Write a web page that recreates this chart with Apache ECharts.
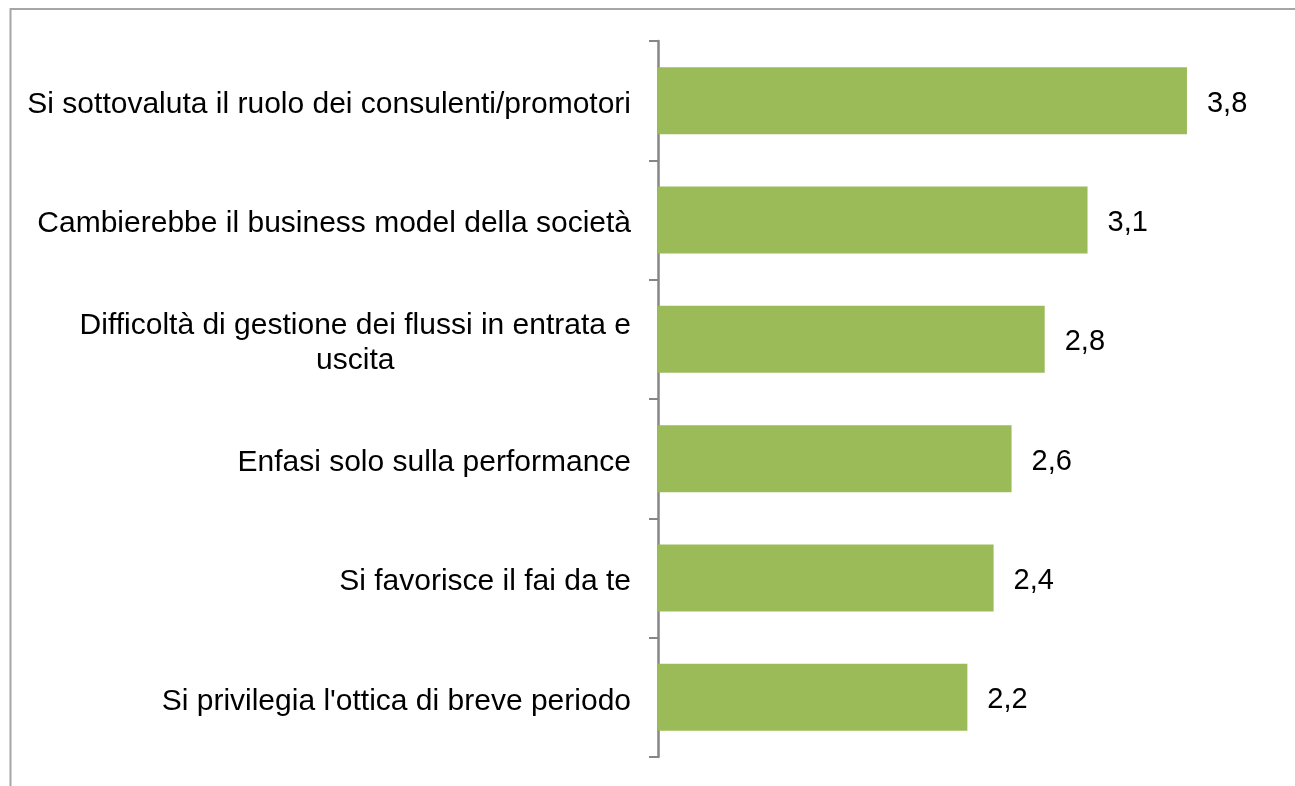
<!DOCTYPE html>
<html>
<head>
<meta charset="utf-8">
<script src="https://cdn.jsdelivr.net/npm/echarts@6/dist/echarts.min.js"></script>
<style>
html,body{margin:0;padding:0;background:#fff;}
#chart{width:1295px;height:786px;}
</style>
</head>
<body>
<div id="chart"></div>
<script>
var categories = [
  "Si sottovaluta il ruolo dei consulenti/promotori",
  "Cambierebbe il business model della società",
  "Difficoltà di gestione dei flussi in entrata e\nuscita",
  "Enfasi solo sulla performance",
  "Si favorisce il fai da te",
  "Si privilegia l'ottica di breve periodo"
];
var values = [3.83, 3.11, 2.80, 2.56, 2.43, 2.24];

var chart = echarts.init(document.getElementById('chart'));
var font = '"Liberation Sans", Arial, sans-serif';
chart.setOption({
  animation: false,
  backgroundColor: '#ffffff',
  graphic: [{
    type: 'rect',
    shape: { x: 10.5, y: 9, width: 1400, height: 900 },
    style: { fill: 'none', stroke: '#a6a6a6', lineWidth: 2 },
    silent: true,
    z: -10
  }],
  grid: { left: 658, right: 15.5, top: 41, bottom: 29, containLabel: false },
  xAxis: {
    type: 'value',
    min: 0,
    max: 4.5,
    show: false
  },
  yAxis: {
    type: 'category',
    data: categories,
    inverse: true,
    axisLine: { show: true, lineStyle: { color: '#868686', width: 2.5 } },
    axisTick: { show: true, length: 9, inside: false, lineStyle: { color: '#868686', width: 2 } },
    axisLabel: {
      margin: 27,
      align: 'right',
      color: '#000',
      fontFamily: font,
      fontSize: 30,
      lineHeight: 35,
      padding: [8, 0, 0, 0],
      formatter: function (v) {
        return v.split('\n').map(function (l) { return '{c|' + l + '}'; }).join('\n');
      },
      rich: {
        c: { align: 'center', fontFamily: font, fontSize: 30, lineHeight: 35, color: '#000' }
      }
    },
    splitLine: { show: false }
  },
  series: [{
    type: 'bar',
    data: values,
    barWidth: 67,
    itemStyle: { color: '#9bbb59' },
    label: {
      show: true,
      position: 'right',
      distance: 20,
      offset: [0, 3],
      color: '#000',
      fontFamily: font,
      fontSize: 29,
      formatter: function (p) { return p.value.toFixed(1).replace('.', ','); }
    }
  }]
});
</script>
</body>
</html>
